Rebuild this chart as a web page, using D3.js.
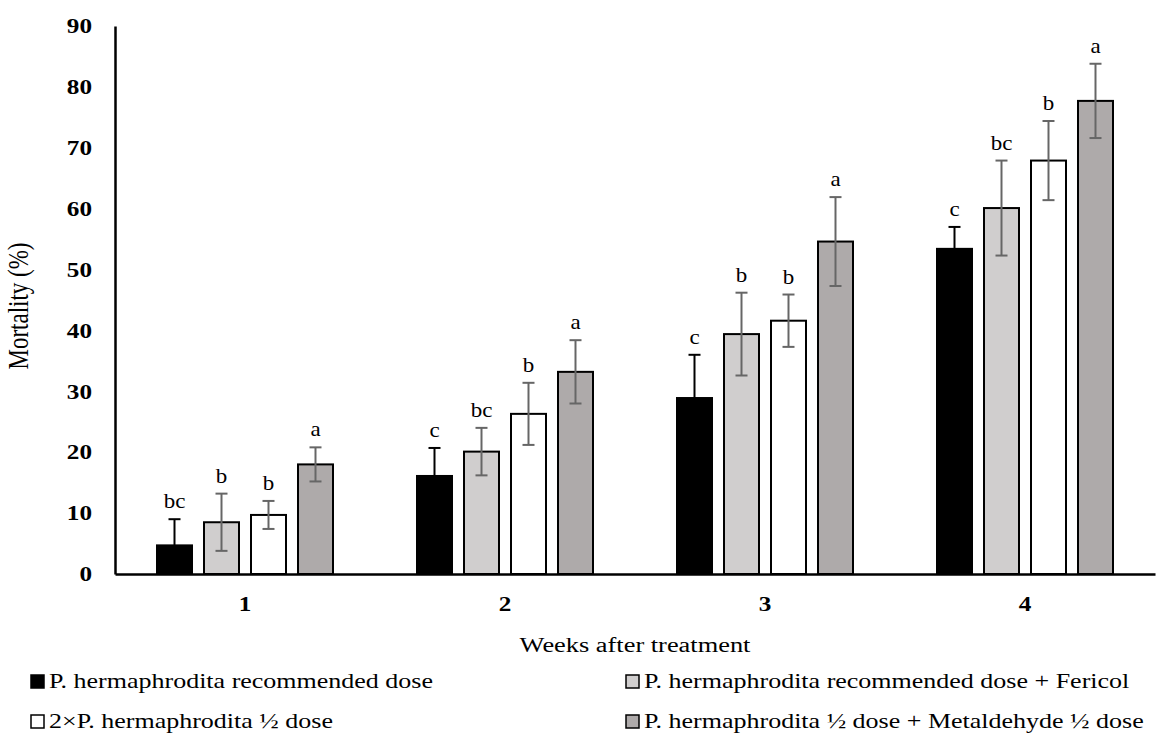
<!DOCTYPE html>
<html>
<head>
<meta charset="utf-8">
<script src="https://cdn.jsdelivr.net/npm/d3@7"></script>
<style>
  html, body { margin: 0; padding: 0; background: #fff; }
  svg { display: block; }
  text { font-family: "Liberation Serif", "Times New Roman", serif; fill: #000; }
</style>
</head>
<body>
<svg id="chart" width="1161" height="734"></svg>
<script>
// Weeks after treatment (x categories)
const weeks = ["1", "2", "3", "4"];

// Treatments (series)
const series = [
  "P. hermaphrodita recommended dose",
  "P. hermaphrodita recommended dose + Fericol",
  "2×P. hermaphrodita ½ dose",
  "P. hermaphrodita ½ dose + Metaldehyde ½ dose"
];

// Mean mortality (%) per treatment, one value per week
const recommended      = [4.7, 16.1, 28.9, 53.4];
const recommendedFeri  = [8.5, 20.1, 39.4, 60.1];
const doubleHalf       = [9.7, 26.3, 41.6, 67.9];
const halfMetaldehyde  = [18.0, 33.2, 54.6, 77.7];

// Standard errors
const errRecommended     = [4.3, 4.6, 7.1, 3.6];
const errRecommendedFeri = [4.7, 3.9, 6.8, 7.8];
const errDoubleHalf      = [2.3, 5.1, 4.3, 6.5];
const errHalfMetaldehyde = [2.8, 5.2, 7.3, 6.1];

// Significance letters
const lettersRecommended     = ["bc", "c", "c", "c"];
const lettersRecommendedFeri = ["b", "bc", "b", "bc"];
const lettersDoubleHalf      = ["b", "b", "b", "b"];
const lettersHalfMetaldehyde = ["a", "a", "a", "a"];

const yTicks = [0, 10, 20, 30, 40, 50, 60, 70, 80, 90];

const values  = [recommended, recommendedFeri, doubleHalf, halfMetaldehyde];
const errors  = [errRecommended, errRecommendedFeri, errDoubleHalf, errHalfMetaldehyde];
const letters = [lettersRecommended, lettersRecommendedFeri, lettersDoubleHalf, lettersHalfMetaldehyde];

const fills    = ["#000000", "#d0cece", "#ffffff", "#aeaaaa"];
const errColor = ["#000000", "#666666", "#666666", "#666666"];

const svg = d3.select("#chart");
const plotLeft = 115, plotRight = 1155, plotTop = 26, plotBottom = 574;

// Widen glyphs horizontally around each text's own anchor point
function stretch(sel, s) {
  sel.each(function () {
    const t = d3.select(this);
    const x = +t.attr("x") || 0, y = +t.attr("y") || 0;
    t.attr("x", 0).attr("y", 0).attr("transform", `translate(${x},${y}) scale(${s},1)`);
  });
}

const x0 = d3.scaleBand().domain(weeks).range([plotLeft, plotRight])
  .paddingInner(0.3154).paddingOuter(0.1577);
const x1 = d3.scaleBand().domain(d3.range(series.length)).range([0, x0.bandwidth()])
  .paddingInner(0.2128).paddingOuter(0);
const y = d3.scaleLinear().domain([0, 90]).range([plotBottom, plotTop]);

// Flatten into records for drawing
const records = [];
weeks.forEach((w, wi) => {
  series.forEach((s, si) => {
    records.push({ week: w, si, v: values[si][wi], e: errors[si][wi], l: letters[si][wi] });
  });
});

// Bars
svg.append("g").selectAll("rect").data(records).join("rect")
  .attr("x", d => x0(d.week) + x1(d.si) + 1)
  .attr("y", d => y(d.v))
  .attr("width", x1.bandwidth() - 2)
  .attr("height", d => y(0) - y(d.v))
  .attr("fill", d => fills[d.si])
  .attr("stroke", "#000")
  .attr("stroke-width", 2);

// Error bars
const eg = svg.append("g");
records.forEach(d => {
  const cx = x0(d.week) + x1(d.si) + x1.bandwidth() / 2;
  const yt = y(d.v + d.e), yb = y(d.v - d.e);
  const c = errColor[d.si];
  eg.append("line").attr("x1", cx).attr("x2", cx).attr("y1", yt).attr("y2", yb)
    .attr("stroke", c).attr("stroke-width", 2);
  [yt, yb].forEach(yy => {
    eg.append("line").attr("x1", cx - 6).attr("x2", cx + 6).attr("y1", yy).attr("y2", yy)
      .attr("stroke", c).attr("stroke-width", 2);
  });
});

// Significance letters
const letterText = svg.append("g").selectAll("text").data(records).join("text")
  .attr("x", d => x0(d.week) + x1(d.si) + x1.bandwidth() / 2)
  .attr("y", d => y(d.v + d.e) - 11)
  .attr("text-anchor", "middle")
  .style("font-size", "20px")
  .text(d => d.l);
stretch(letterText, 1.15);

// Y axis
const yAxis = svg.append("g").attr("transform", `translate(${plotLeft},0)`)
  .call(d3.axisLeft(y).tickValues(yTicks).tickSize(0).tickSizeOuter(0).tickPadding(23));
yAxis.select(".domain").attr("stroke", "#000").attr("stroke-width", 2.5);
yAxis.selectAll("text")
  .style("font-family", '"Liberation Serif", "Times New Roman", serif')
  .style("font-size", "21px").style("font-weight", "bold").attr("fill", "#000");
stretch(yAxis.selectAll("text"), 1.2);

// X axis
const xAxis = svg.append("g").attr("transform", `translate(0,${plotBottom})`)
  .call(d3.axisBottom(x0).tickSize(0).tickSizeOuter(0).tickPadding(22));
xAxis.select(".domain").attr("stroke", "#000").attr("stroke-width", 2.5);
xAxis.selectAll("text")
  .style("font-family", '"Liberation Serif", "Times New Roman", serif')
  .style("font-size", "21px").style("font-weight", "bold").attr("fill", "#000");
stretch(xAxis.selectAll("text"), 1.2);

// Axis titles
const xTitle = svg.append("text")
  .attr("x", (plotLeft + plotRight) / 2).attr("y", 652)
  .attr("text-anchor", "middle").style("font-size", "20px")
  .text("Weeks after treatment");
stretch(xTitle, 1.32);

svg.append("text")
  .attr("transform", `translate(28,${(plotTop + plotBottom) / 2 + 6}) scale(1.25,1) rotate(-90)`)
  .attr("text-anchor", "middle").style("font-size", "23px")
  .text("Mortality (%)");

// Legend (two columns, two rows)
const legendPos = [[30, 681], [625, 681], [30, 721], [625, 721]];
const lg = svg.append("g");
series.forEach((s, i) => {
  const [lx, ly] = legendPos[i];
  lg.append("rect").attr("x", lx + 1).attr("y", ly - 6).attr("width", 13).attr("height", 13)
    .attr("fill", fills[i]).attr("stroke", "#000").attr("stroke-width", 1.5);
  const t = lg.append("text").attr("x", lx + 19).attr("y", ly + 7)
    .style("font-size", "20px").text(s);
  stretch(t, 1.3);
});
</script>
</body>
</html>
